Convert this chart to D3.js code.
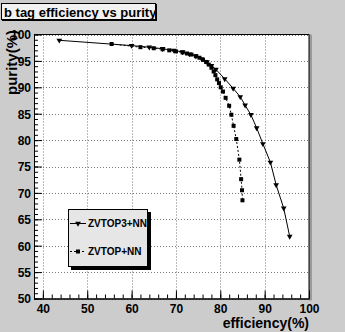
<!DOCTYPE html>
<html><head><meta charset="utf-8">
<script src="https://cdn.jsdelivr.net/npm/d3@7"></script>
<style>body{margin:0;background:#cccccc;}svg{display:block;font-family:"Liberation Sans",Arial,sans-serif;font-weight:bold;}</style>
</head><body>
<script>
const title = "b tag efficiency vs purity";
const xTitle = "efficiency(%)";
const yTitle = "purity(%)";
const seriesNames = ["ZVTOP3+NN", "ZVTOP+NN"];
const xTicks = [40, 50, 60, 70, 80, 90, 100];
const yTicks = [50, 55, 60, 65, 70, 75, 80, 85, 90, 95, 100];
// ZVTOP3+NN (efficiency, purity)
const zvtop3Eff = [43.7, 60.0, 64.0, 67.0, 69.5, 71.5, 73.0, 74.5, 75.8, 77.0, 78.0, 79.0, 81.0, 82.9, 84.5, 85.6, 86.9, 88.2, 89.6, 91.3, 92.6, 94.3, 95.65];
const zvtop3Pur = [98.9, 97.9, 97.6, 97.3, 97.0, 96.7, 96.3, 95.9, 95.4, 94.8, 94.1, 93.4, 91.6, 89.8, 88.2, 86.6, 84.8, 82.3, 79.3, 75.8, 71.5, 67.1, 61.75];
// ZVTOP+NN
const zvtopEff = [55.5, 62.0, 65.0, 67.0, 68.5, 70.0, 71.5, 72.5, 73.5, 74.5, 75.3, 76.1, 76.8, 77.4, 78.0, 78.5, 78.9, 79.3, 79.7, 80.1, 80.6, 81.2, 82.0, 82.5, 83.0, 83.6, 84.3, 84.7, 84.9, 85.0];
const zvtopPur = [98.2, 97.6, 97.4, 97.2, 97.0, 96.8, 96.6, 96.4, 96.2, 95.9, 95.6, 95.2, 94.8, 94.3, 93.7, 93.0, 92.3, 91.5, 90.8, 90.0, 89.2, 88.0, 86.5, 84.8, 82.7, 80.2, 76.3, 72.6, 70.5, 68.6];

const W = 345, H = 332;
const svg = d3.select("body").append("svg").attr("width", W).attr("height", H);
svg.append("rect").attr("width", W).attr("height", H).attr("fill", "#cccccc");

const x = d3.scaleLinear().domain([38, 100]).range([34, 309]);
const y = d3.scaleLinear().domain([50, 100]).range([298.5, 34.5]);
const x0 = x(38), x1 = x(100), y0 = y(100), y1 = y(50);

// frame
svg.append("rect").attr("x", x1).attr("y", y0).attr("width", 3).attr("height", y1 - y0 + 2).attr("fill", "#9a9a9a");
svg.append("rect").attr("x", x0).attr("y", y0).attr("width", x1 - x0).attr("height", y1 - y0).attr("fill", "#ffffff");

// grid (dotted)
const gridG = svg.append("g").attr("fill", "none").attr("stroke", "#777777").attr("stroke-width", 1).attr("stroke-dasharray", "1 2");
gridG.selectAll("line.gv").data(xTicks).join("line").attr("class", "gv")
  .attr("x1", d => Math.round(x(d)) + 0.5).attr("x2", d => Math.round(x(d)) + 0.5).attr("y1", y0).attr("y2", y1);
gridG.selectAll("line.gh").data(yTicks).join("line").attr("class", "gh")
  .attr("x1", x0).attr("x2", x1).attr("y1", d => Math.round(y(d)) + 0.5).attr("y2", d => Math.round(y(d)) + 0.5);

// axes
const xMinor = d3.range(38, 100.1, 2);
const yMinor = d3.range(50, 100.1, 1);
const gxm = svg.append("g").attr("transform", `translate(0,${y1})`)
  .call(d3.axisBottom(x).tickValues(xMinor).tickSize(-4).tickFormat(() => "").tickSizeOuter(0));
const gxM = svg.append("g").attr("transform", `translate(0,${y1})`)
  .call(d3.axisBottom(x).tickValues(xTicks).tickSize(-8).tickSizeOuter(0));
const gym = svg.append("g").attr("transform", `translate(${x0},0)`)
  .call(d3.axisLeft(y).tickValues(yMinor).tickSize(-4).tickFormat(() => "").tickSizeOuter(0));
const gyM = svg.append("g").attr("transform", `translate(${x0},0)`)
  .call(d3.axisLeft(y).tickValues(yTicks).tickSize(-8).tickSizeOuter(0));
[gxm, gxM, gym, gyM].forEach(g => {
  g.select(".domain").attr("stroke", "#000");
  g.selectAll(".tick line").attr("stroke", "#000");
  g.selectAll(".tick text").attr("font-family", "Liberation Sans, Arial, sans-serif")
    .attr("font-weight", "bold").attr("font-size", 12).attr("fill", "#000");
});
gxM.selectAll(".tick text").attr("y", 14.5).attr("dy", null).attr("text-anchor", "middle");
gyM.selectAll(".tick text").attr("x", -3).attr("dy", "0.36em").attr("text-anchor", "end");

// frame outline top/right
svg.append("line").attr("x1", x0).attr("x2", x1).attr("y1", y0).attr("y2", y0).attr("stroke", "#000");
svg.append("line").attr("x1", x1).attr("x2", x1).attr("y1", y0).attr("y2", y1).attr("stroke", "#000");

// series
const s1 = zvtop3Eff.map((e, i) => [e, zvtop3Pur[i]]);
const s2 = zvtopEff.map((e, i) => [e, zvtopPur[i]]);
const line = d3.line().x(d => x(d[0])).y(d => y(d[1]));
svg.append("path").attr("d", line(s2)).attr("fill", "none").attr("stroke", "#000").attr("stroke-dasharray", "2,2");
svg.append("path").attr("d", line(s1)).attr("fill", "none").attr("stroke", "#000");
const tri = d3.symbol().type(d3.symbolTriangle).size(14);
svg.append("g").selectAll("path").data(s1).join("path")
  .attr("d", tri).attr("transform", d => `translate(${x(d[0])},${y(d[1])}) rotate(180)`).attr("fill", "#000");
svg.append("g").selectAll("rect").data(s2).join("rect")
  .attr("x", d => x(d[0]) - 2).attr("y", d => y(d[1]) - 2).attr("width", 4).attr("height", 4).attr("fill", "#000");

// titles
svg.append("text").attr("x", x1).attr("y", 328).attr("text-anchor", "end").attr("font-size", 14).text(xTitle);
svg.append("text").attr("transform", `translate(17,30) rotate(-90)`).attr("text-anchor", "end").attr("font-size", 15).text(yTitle);

// title box
svg.append("rect").attr("x", 2).attr("y", 4).attr("width", 155).attr("height", 17).attr("fill", "#000");
svg.append("rect").attr("x", 1.5).attr("y", 3.5).attr("width", 154).attr("height", 16).attr("fill", "#f2f2f2").attr("stroke", "#000");
svg.append("text").attr("x", 4).attr("y", 17).attr("font-size", 13).text(title);

// legend
const lg = svg.append("g");
lg.append("rect").attr("x", 71).attr("y", 212).attr("width", 80).attr("height", 58).attr("fill", "#000");
lg.append("rect").attr("x", 68.5).attr("y", 209.5).attr("width", 79).attr("height", 57).attr("fill", "#e6e6e6").attr("stroke", "#000");
const ly = [223.5, 251.5];
lg.append("line").attr("x1", 70).attr("x2", 86).attr("y1", ly[0]).attr("y2", ly[0]).attr("stroke", "#000");
lg.append("path").attr("d", tri).attr("transform", `translate(78,${ly[0]}) rotate(180)`).attr("fill", "#000");
lg.append("line").attr("x1", 70).attr("x2", 86).attr("y1", ly[1]).attr("y2", ly[1]).attr("stroke", "#000").attr("stroke-dasharray", "2,2");
lg.append("rect").attr("x", 76).attr("y", ly[1] - 2).attr("width", 4).attr("height", 4).attr("fill", "#000");
seriesNames.forEach((n, i) => lg.append("text").attr("x", 88).attr("y", ly[i] + 3.6).attr("font-size", 10).text(n));
</script>
</body></html>
